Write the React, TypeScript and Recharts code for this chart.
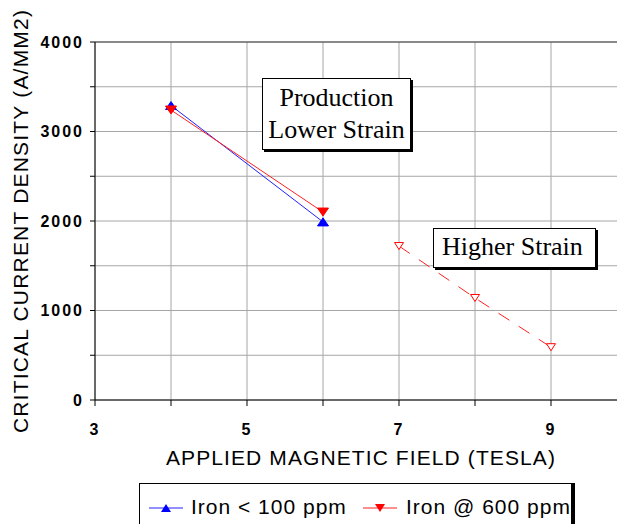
import React from 'react';
import { LineChart, Line, XAxis, YAxis, CartesianGrid, ReferenceLine } from 'recharts';

// field values (tesla) and critical current density (A/mm2)
const lowIronField = [4, 6];
const lowIronJc = [3290, 1990];
const highIronField = [4, 6];
const highIronJc = [3240, 2100];
const strainField = [7, 8, 9];
const strainJc = [1720, 1140, 590];

const xTicks = [3, 4, 5, 6, 7, 8, 9, 10];
const yTicks = [0, 500, 1000, 1500, 2000, 2500, 3000, 3500, 4000];

const lowIronData = lowIronField.map((x, i) => ({ x, y: lowIronJc[i] }));
const highIronData = highIronField.map((x, i) => ({ x, y: highIronJc[i] }));
const strainData = strainField.map((x, i) => ({ x, y: strainJc[i] }));

const sans = 'Arial, "Liberation Sans", sans-serif';
const serif = '"Times New Roman", "Liberation Serif", serif';

const triangle = (up: boolean, fill: string, stroke: string, w: number, h: number) => (props: any) => {
  const { cx, cy, index } = props;
  if (cx == null || cy == null) return <g key={index} />;
  const pts = up
    ? `${cx},${cy - h / 2} ${cx - w / 2},${cy + h / 2} ${cx + w / 2},${cy + h / 2}`
    : `${cx},${cy + h / 2} ${cx - w / 2},${cy - h / 2} ${cx + w / 2},${cy - h / 2}`;
  return <polygon key={index} points={pts} fill={fill} stroke={stroke} strokeWidth={1} />;
};

const boxStyle: React.CSSProperties = {
  position: 'absolute',
  background: '#fff',
  border: '1px solid #000',
  boxShadow: '2px 2px 0 #000',
  fontFamily: serif,
  fontSize: 26,
  color: '#000',
  lineHeight: '32px',
};

const tickStyle = { fill: '#000', fontSize: 16, fontWeight: 'bold', fontFamily: sans, letterSpacing: 2 };

const App: React.FC = () => {
  return (
    <div style={{ position: 'absolute', left: 0, top: 0, width: 617, height: 524, overflow: 'hidden', background: '#fff' }}>
      <LineChart width={627} height={524} margin={{ top: 42, right: 0, left: 0, bottom: 54 }}>
        <CartesianGrid stroke="#a6a6a6" strokeWidth={1} />
        <XAxis
          type="number"
          dataKey="x"
          domain={[3, 10]}
          ticks={xTicks}
          allowDataOverflow
          tickFormatter={(v: number) => (v % 2 === 1 ? String(v) : '')}
          tick={tickStyle}
          stroke="#000"
          tickSize={6}
          tickMargin={18}
          height={70}
          label={{ value: 'APPLIED MAGNETIC FIELD (TESLA)', position: 'insideBottom', offset: 5, fill: '#000', fontSize: 21, fontFamily: sans, letterSpacing: 1.1 }}
        />
        <YAxis
          type="number"
          dataKey="y"
          domain={[0, 4000]}
          ticks={yTicks}
          tickFormatter={(v: number) => (v % 1000 === 0 ? String(v) : '')}
          tick={tickStyle}
          stroke="#000"
          tickSize={5}
          tickMargin={6}
          width={95}
          label={{ value: 'CRITICAL CURRENT DENSITY (A/MM2)', angle: -90, position: 'insideLeft', offset: 21, fill: '#000', fontSize: 21, fontFamily: sans, letterSpacing: 1.2, style: { textAnchor: 'middle' } }}
        />
        <ReferenceLine y={4000} stroke="#404040" />
        <Line
          data={lowIronData}
          dataKey="y"
          stroke="#2020ff"
          strokeWidth={1}
          dot={triangle(true, '#0000ff', '#0000ff', 11, 8)}
          isAnimationActive={false}
        />
        <Line
          data={highIronData}
          dataKey="y"
          stroke="#ff2020"
          strokeWidth={1}
          dot={triangle(false, '#ff0000', '#ff0000', 11, 8)}
          isAnimationActive={false}
        />
        <Line
          data={strainData}
          dataKey="y"
          stroke="#ff2020"
          strokeWidth={1}
          strokeDasharray="13 11"
          dot={triangle(false, '#fff', '#ff0000', 9, 7)}
          isAnimationActive={false}
        />
      </LineChart>

      <div style={{ ...boxStyle, left: 262, top: 78, width: 147, height: 70, textAlign: 'center' }}>
        <div style={{ marginTop: 3 }}>Production</div>
        <div>Lower Strain</div>
      </div>
      <div style={{ ...boxStyle, left: 433, top: 228, width: 153, height: 38, lineHeight: '36px', paddingLeft: 8 }}>
        Higher Strain
      </div>

      <div
        style={{
          position: 'absolute',
          left: 139,
          top: 483,
          width: 431,
          height: 50,
          border: '1px solid #000',
          boxShadow: '3px 0 0 #000',
          background: '#fff',
          fontFamily: sans,
          fontSize: 21,
          letterSpacing: 1,
          color: '#000',
        }}
      >
        <svg width={40} height={20} style={{ position: 'absolute', left: 9, top: 14 }}>
          <line x1={0} y1={10} x2={34} y2={10} stroke="#2020ff" />
          <polygon points="17,6 12,14 22,14" fill="#0000ff" />
        </svg>
        <span style={{ position: 'absolute', left: 51, top: 10, lineHeight: '26px' }}>Iron &lt; 100 ppm</span>
        <svg width={40} height={20} style={{ position: 'absolute', left: 223, top: 14 }}>
          <line x1={0} y1={10} x2={34} y2={10} stroke="#ff2020" />
          <polygon points="17,14 12,6 22,6" fill="#ff0000" />
        </svg>
        <span style={{ position: 'absolute', left: 266, top: 10, lineHeight: '26px' }}>Iron @ 600 ppm</span>
      </div>
    </div>
  );
};

export default App;
